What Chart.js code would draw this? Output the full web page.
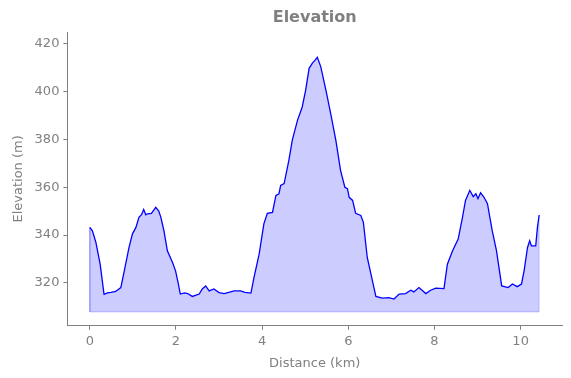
<!DOCTYPE html>
<html>
<head>
<meta charset="utf-8">
<script src="https://cdn.jsdelivr.net/npm/chart.js@4/dist/chart.umd.min.js"></script>
<style>
  html, body { margin: 0; padding: 0; background: #fff; }
  #wrap { width: 571px; height: 378px; }
</style>
</head>
<body>
<div id="wrap"><canvas id="myChart" width="571" height="378"></canvas></div>
<script>
// distance along the track (km) and elevation (m)
var distance = [0, 0.06, 0.14, 0.24, 0.33, 0.41, 0.49, 0.6, 0.72, 0.8, 0.91, 0.99, 1.07, 1.14, 1.2, 1.25, 1.3, 1.34, 1.43, 1.53, 1.6, 1.65, 1.72, 1.8, 1.92, 1.99, 2.05, 2.1, 2.2, 2.27, 2.38, 2.54, 2.61, 2.69, 2.77, 2.88, 3.0, 3.12, 3.27, 3.35, 3.46, 3.5, 3.6, 3.74,
  3.81, 3.93, 4.04, 4.12, 4.24, 4.32, 4.39, 4.43, 4.51, 4.62, 4.7, 4.82, 4.93, 5.01, 5.09, 5.17, 5.23, 5.28, 5.36, 5.48, 5.59, 5.71, 5.82, 5.92, 5.98, 6.02, 6.1, 6.17, 6.29, 6.35, 6.44, 6.56, 6.64, 6.79, 6.94, 7.06, 7.18,
  7.33, 7.45, 7.52, 7.64, 7.8, 7.91, 8.03, 8.22, 8.3, 8.42, 8.55, 8.65, 8.72, 8.82, 8.9, 8.96, 9.01, 9.07, 9.15, 9.23, 9.34, 9.44, 9.56, 9.71, 9.81, 9.92, 10.02, 10.08, 10.16, 10.21, 10.25, 10.35, 10.39, 10.43];
var elevation = [343.2, 341.8, 337, 327.8, 315.2, 315.8, 316, 316.4, 318, 325, 334.8, 340.5, 343.2, 347.4, 348.5, 350.7, 348.5, 348.9, 349.1, 351.6, 350, 347.4, 341.8, 333.4, 328.5, 325, 320, 315.3, 315.8, 315.5, 314.3, 315.3, 317.4, 318.7, 316.6, 317.4, 315.9, 315.5, 316.2, 316.6, 316.6, 316.6, 316, 315.7,
  322.2, 332, 344.7, 349.1, 349.5, 356.6, 357.3, 360.8, 361.5, 371.3, 379.7, 388, 393.6, 400.7, 409.8, 412.1, 413.2, 414.4, 410.5, 400.7, 390.9, 379.7, 367.1, 360, 359.4, 355.8, 354.5, 349.1, 348.2, 345.3, 330.6, 320.8, 314.3, 313.6, 313.8, 313.2, 315.3,
  315.5, 316.9, 316.2, 318, 315.5, 316.9, 317.8, 317.6, 327.8, 333.4, 338.3, 347.4, 354.5, 358.7, 356.1, 357.3, 355.2, 357.7, 355.8, 353.1, 341.8, 333.4, 318.7, 318, 319.5, 318.4, 319.5, 325, 334.8, 337.6, 335.5, 335.5, 343.2, 348.4];
var fillBase = 307.8;
var xTicks = [0, 2, 4, 6, 8, 10];
var yTicks = [320, 340, 360, 380, 400, 420];
var chartTitle = 'Elevation';

var points = [];
for (var i = 0; i < distance.length; i++) {
    points.push({ x: distance[i], y: elevation[i] });
}
var last = distance.length - 1;
var edge = [
    { x: distance[0], y: elevation[0] },
    { x: distance[0], y: fillBase },
    { x: distance[last], y: fillBase },
    { x: distance[last], y: elevation[last] }
];

var grey = '#808080';
var font = { family: 'DejaVu Sans', size: 13 };

// title centred over the plot area, not the whole canvas
const titlePlugin = {
    id: 'plotTitle',
    afterDraw: function (chart) {
        var ctx = chart.ctx;
        var area = chart.chartArea;
        ctx.save();
        ctx.fillStyle = grey;
        ctx.font = 'bold 16px "DejaVu Sans"';
        ctx.textAlign = 'center';
        ctx.textBaseline = 'middle';
        ctx.fillText(chartTitle, (area.left + area.right) / 2, 18);
        ctx.restore();
    }
};

const data = {
    datasets: [{
        label: 'Elevation',
        data: points,
        borderColor: '#0000ff',
        borderWidth: 1.3,
        backgroundColor: 'rgba(0, 0, 255, 0.2)',
        fill: { value: fillBase },
        pointRadius: 0,
        tension: 0
    }, {
        label: 'edge',
        data: edge,
        borderColor: 'rgba(0, 0, 255, 0.2)',
        borderWidth: 1,
        fill: false,
        pointRadius: 0
    }]
};

const config = {
    type: 'line',
    data: data,
    plugins: [titlePlugin],
    options: {
        responsive: false,
        animation: false,
        layout: { padding: { left: 11, right: 9, top: 32, bottom: 7 } },
        plugins: {
            legend: { display: false },
            tooltip: { enabled: false },
            title: { display: false }
        },
        scales: {
            x: {
                type: 'linear',
                min: -0.52,
                max: 10.96,
                afterBuildTicks: function (axis) {
                    axis.ticks = xTicks.map(function (v) { return { value: v }; });
                },
                ticks: { color: grey, font: font, maxRotation: 0, padding: 4 },
                grid: { display: true, drawOnChartArea: false, drawTicks: true, tickLength: 4, color: grey },
                border: { display: true, color: grey, width: 1 },
                title: { display: true, text: 'Distance (km)', color: grey, font: font, padding: { top: 2, bottom: 0 } }
            },
            y: {
                min: 302,
                max: 425,
                afterBuildTicks: function (axis) {
                    axis.ticks = yTicks.map(function (v) { return { value: v }; });
                },
                ticks: { color: grey, font: font, padding: 4 },
                grid: { display: true, drawOnChartArea: false, drawTicks: true, tickLength: 4, color: grey },
                border: { display: true, color: grey, width: 1 },
                title: { display: true, text: 'Elevation (m)', color: grey, font: font, padding: { top: 0, bottom: 4 } }
            }
        }
    }
};

const myChart = new Chart(document.getElementById('myChart'), config);
</script>
</body>
</html>
